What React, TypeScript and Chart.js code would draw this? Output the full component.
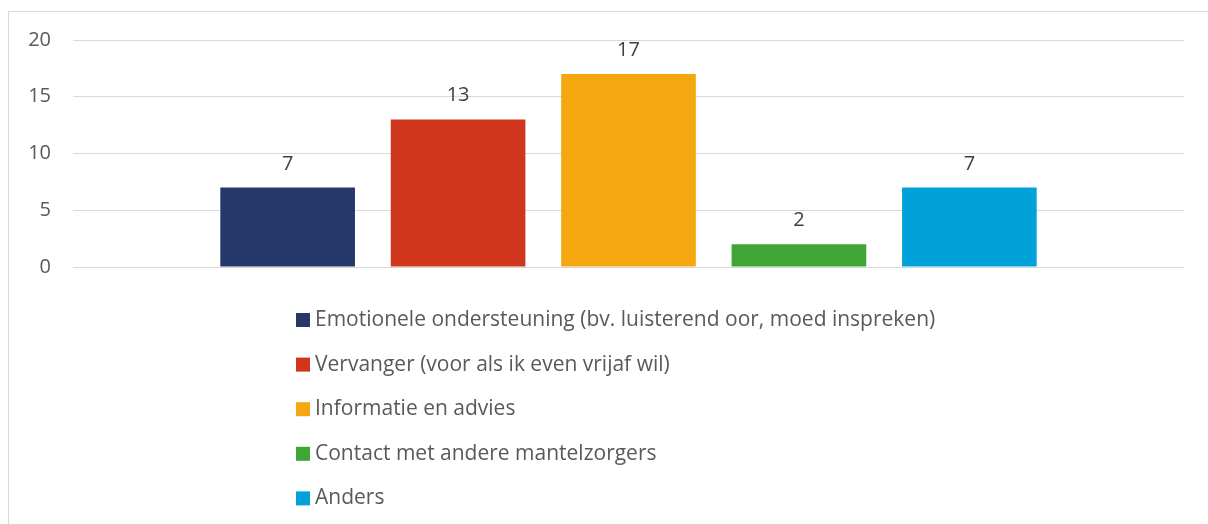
import React, { useEffect, useRef } from "react";
import { Chart, registerables } from "chart.js";

Chart.register(...registerables);

const categories = [""];
const seriesNames = [
  "Emotionele ondersteuning (bv. luisterend oor, moed inspreken)",
  "Vervanger (voor als ik even vrijaf wil)",
  "Informatie en advies",
  "Contact met andere mantelzorgers",
  "Anders",
];
const seriesValues = [7, 13, 17, 2, 7];
const seriesColors = ["#25376b", "#d0361b", "#f5a70f", "#3fa535", "#00a2d9"];
const yTicks = [0, 5, 10, 15, 20];

const FONT = "'Open Sans', Lato, sans-serif";

const dataLabelPlugin = {
  id: "dataLabels",
  afterDatasetsDraw(chart: any) {
    const ctx = chart.ctx;
    ctx.save();
    ctx.font = `20px ${FONT}`;
    ctx.fillStyle = "#404040";
    ctx.textAlign = "center";
    ctx.textBaseline = "alphabetic";
    chart.data.datasets.forEach((ds: any, i: number) => {
      const meta = chart.getDatasetMeta(i);
      meta.data.forEach((el: any, j: number) => {
        ctx.fillText(String(ds.data[j]), el.x, el.y - 18);
      });
    });
    ctx.restore();
  },
};

const customLegendPlugin = {
  id: "customLegend",
  afterDraw(chart: any) {
    const ctx = chart.ctx;
    ctx.save();
    ctx.font = `21px ${FONT}`;
    ctx.textAlign = "left";
    ctx.textBaseline = "middle";
    const boxX = 296;
    const startY = 320;
    const step = 44.6;
    chart.data.datasets.forEach((ds: any, i: number) => {
      const cy = startY + i * step;
      ctx.fillStyle = ds.backgroundColor;
      ctx.fillRect(boxX, cy - 7, 14, 14);
      ctx.fillStyle = "#595959";
      ctx.fillText(ds.label, boxX + 19, cy);
    });
    ctx.restore();
  },
};

export default function App() {
  const ref = useRef<HTMLCanvasElement>(null);

  useEffect(() => {
    document.body.style.margin = "0";
    document.body.style.overflow = "hidden";
    const chart = new Chart(ref.current!, {
      type: "bar",
      data: {
        labels: categories,
        datasets: seriesNames.map((name, i) => ({
          label: name,
          data: [seriesValues[i]],
          backgroundColor: seriesColors[i],
          borderWidth: 0,
        })),
      },
      options: {
        animation: false,
        responsive: false,
        devicePixelRatio: 1,
        datasets: {
          bar: { categoryPercentage: 0.767, barPercentage: 0.79 },
        },
        layout: { padding: { left: 0, right: 24, top: 40, bottom: 257 } },
        plugins: {
          legend: { display: false },
          tooltip: { enabled: false },
        },
        scales: {
          x: { display: false },
          y: {
            min: 0,
            max: 20,
            afterBuildTicks: (s: any) => {
              s.ticks = yTicks.map((v) => ({ value: v }));
            },
            afterFit: (s: any) => {
              s.width = 73;
            },
            border: { display: false },
            grid: { color: "#d9d9d9", lineWidth: 1, drawTicks: false },
            ticks: {
              padding: 22,
              color: "#595959",
              font: { family: FONT, size: 20 },
            },
          },
        },
      },
      plugins: [dataLabelPlugin, customLegendPlugin],
    });
    return () => chart.destroy();
  }, []);

  return (
    <div style={{ position: "relative", width: 1208, height: 524, overflow: "hidden", background: "#fff" }}>
      <div
        style={{
          position: "absolute",
          left: 8,
          top: 11,
          width: 1300,
          height: 700,
          border: "1px solid #d9d9d9",
          boxSizing: "border-box",
        }}
      />
      <canvas
        ref={ref}
        width={1208}
        height={524}
        style={{ position: "absolute", left: 0, top: 0, width: 1208, height: 524 }}
      />
    </div>
  );
}
